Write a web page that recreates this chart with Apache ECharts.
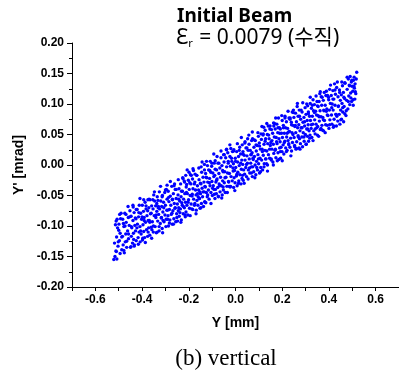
<!DOCTYPE html>
<html>
<head>
<meta charset="utf-8">
<script src="https://cdn.jsdelivr.net/npm/echarts@6/dist/echarts.min.js"></script>
<style>
html,body{margin:0;padding:0;background:#fff;}
#c{width:399px;height:376px;}
</style>
</head>
<body>
<div id="c"></div>
<script>
// Y [mm], Y' [mrad], left part of the beam
const beamLeft = [
[-.521,-.155],[-.516,-.150],[-.508,-.154],[-.512,-.141],[-.503,-.133],[-.518,-.128],[-.497,-.124],[-.509,-.118],[-.494,-.112],[-.505,-.103],[-.499,-.097],[-.492,-.088],[-.511,-.092],[-.496,-.081],
[-.487,-.139],[-.481,-.131],[-.476,-.144],[-.472,-.126],[-.466,-.135],[-.458,-.121],[-.484,-.117],[-.470,-.113],[-.462,-.108],[-.478,-.101],[-.455,-.099],[-.468,-.094],[-.483,-.089],[-.459,-.086],[-.474,-.079],[-.452,-.075],
[-.448,-.134],[-.441,-.128],[-.433,-.131],[-.425,-.124],[-.417,-.119],[-.446,-.117],[-.437,-.112],[-.428,-.108],[-.413,-.110],[-.444,-.103],[-.431,-.099],[-.420,-.097],[-.439,-.091],[-.426,-.088],[-.415,-.085],[-.447,-.084],[-.434,-.078],[-.421,-.073],[-.412,-.066],[-.438,-.069],
[-.408,-.126],[-.398,-.123],[-.389,-.119],[-.376,-.117],[-.404,-.113],[-.393,-.109],[-.381,-.106],[-.372,-.103],[-.409,-.101],[-.396,-.098],[-.385,-.094],[-.374,-.091],[-.402,-.089],[-.391,-.086],[-.379,-.083],[-.406,-.079],[-.394,-.076],[-.383,-.072],[-.371,-.070],[-.399,-.066],[-.387,-.061],[-.375,-.057],
[-.367,-.115],[-.352,-.110],[-.339,-.111],[-.361,-.102],[-.344,-.101],[-.333,-.092],[-.356,-.093],[-.369,-.091],[-.348,-.083],[-.337,-.076],[-.364,-.080],[-.353,-.072],[-.342,-.067],[-.331,-.070],[-.359,-.067],[-.346,-.059],[-.335,-.052],[-.366,-.057],[-.350,-.049],[-.341,-.086],[-.358,-.106],[-.332,-.058],
[-.327,-.108],[-.314,-.104],[-.298,-.101],[-.322,-.096],[-.306,-.093],[-.291,-.089],[-.318,-.087],[-.329,-.081],[-.302,-.082],[-.311,-.077],[-.294,-.074],[-.325,-.072],[-.316,-.068],[-.300,-.066],[-.308,-.061],[-.320,-.059],[-.293,-.056],[-.313,-.050],[-.303,-.045],[-.326,-.044],[-.296,-.040],[-.310,-.091],
[-.287,-.100],[-.271,-.097],[-.256,-.093],[-.281,-.090],[-.264,-.088],[-.289,-.083],[-.275,-.081],[-.252,-.080],[-.268,-.075],[-.283,-.073],[-.259,-.071],[-.277,-.066],[-.262,-.063],[-.285,-.060],[-.270,-.057],[-.254,-.055],[-.279,-.051],[-.266,-.047],[-.288,-.043],[-.258,-.040],[-.273,-.035],[-.261,-.031],
[-.248,-.092],[-.232,-.090],[-.215,-.085],[-.241,-.084],[-.224,-.080],[-.212,-.077],[-.245,-.075],[-.236,-.072],[-.219,-.070],[-.228,-.066],[-.249,-.064],[-.214,-.061],[-.239,-.059],[-.222,-.056],[-.233,-.052],[-.246,-.049],[-.217,-.047],[-.227,-.043],[-.242,-.039],[-.211,-.036],[-.235,-.031],[-.220,-.026],[-.230,-.062],[-.243,-.070],[-.226,-.021],[-.213,-.017]
];
// central part of the beam
const beamCore = [
[-.204,-.082],[-.183,-.073],[-.197,-.071],[-.174,-.063],[-.190,-.064],[-.208,-.066],[-.179,-.056],[-.201,-.057],[-.186,-.051],[-.194,-.050],[-.171,-.041],[-.206,-.047],[-.182,-.039],[-.198,-.040],[-.176,-.031],[-.191,-.031],[-.209,-.032],[-.184,-.023],[-.202,-.025],[-.173,-.015],[-.193,-.016],[-.180,-.009],[-.187,-.072],[-.199,-.012],
[-.168,-.074],[-.152,-.071],[-.137,-.068],[-.161,-.066],[-.146,-.063],[-.132,-.060],[-.165,-.058],[-.155,-.055],[-.141,-.052],[-.169,-.049],[-.150,-.047],[-.134,-.044],[-.158,-.041],[-.143,-.038],[-.163,-.034],[-.148,-.031],[-.135,-.028],[-.156,-.024],[-.139,-.020],[-.166,-.017],[-.145,-.012],[-.153,-.044],[-.131,-.035],[-.160,-.052],[-.147,-.003],[-.133,.001],
[-.127,-.062],[-.113,-.056],[-.099,-.050],[-.121,-.052],[-.105,-.045],[-.092,-.040],[-.125,-.045],[-.116,-.041],[-.095,-.034],[-.109,-.034],[-.129,-.036],[-.101,-.027],[-.119,-.028],[-.093,-.019],[-.111,-.022],[-.123,-.021],[-.097,-.013],[-.106,-.012],[-.128,-.014],[-.115,-.008],[-.102,-.002],[-.091,.003],[-.120,-.001],[-.108,.006],
[-.088,-.055],[-.073,-.052],[-.057,-.049],[-.082,-.047],[-.066,-.044],[-.052,-.041],[-.086,-.040],[-.076,-.037],[-.061,-.034],[-.070,-.031],[-.084,-.028],[-.055,-.026],[-.079,-.023],[-.064,-.020],[-.089,-.017],[-.071,-.014],[-.053,-.011],[-.081,-.008],[-.067,-.005],[-.058,-.001],[-.075,.003],[-.087,.007],[-.062,.012],[-.051,.017],
[-.044,-.045],[-.023,-.036],[-.037,-.035],[-.014,-.026],[-.030,-.027],[-.048,-.029],[-.019,-.019],[-.041,-.020],[-.026,-.014],[-.034,-.013],[-.011,-.005],[-.046,-.011],[-.022,-.002],[-.038,-.003],[-.016,.006],[-.031,.006],[-.049,.005],[-.024,.014],[-.042,.012],[-.013,.022],[-.033,.020],[-.020,.027],[-.027,-.035],[-.039,.025],
[-.008,-.037],[.007,-.034],[.023,-.031],[-.002,-.029],[.014,-.026],[.028,-.022],[-.006,-.021],[.004,-.018],[.019,-.016],[.010,-.012],[-.004,-.009],[.025,-.007],[.001,-.004],[.016,-.001],[-.009,.002],[.009,.005],[.027,.008],[-.001,.011],[.013,.014],[.022,.018],[.005,.022],[-.007,.025],[.018,.029],[.029,.033],
[.033,-.025],[.047,-.019],[.061,-.013],[.039,-.015],[.055,-.008],[.068,-.003],[.035,-.008],[.044,-.004],[.065,.003],[.051,.003],[.031,.001],[.059,.010],[.041,.008],[.067,.017],[.049,.015],[.037,.016],[.063,.024],[.054,.024],[.032,.022],[.045,.028],[.058,.034],[.069,.040],[.040,.036],[.052,.043],
[.072,-.019],[.087,-.016],[.103,-.013],[.078,-.011],[.094,-.008],[.108,-.004],[.074,-.003],[.084,.000],[.099,.002],[.090,.006],[.076,.009],[.105,.011],[.081,.014],[.096,.017],[.071,.020],[.089,.023],[.107,.026],[.079,.029],[.093,.032],[.102,.036],[.085,.040],[.073,.043],[.098,.047],[.109,.051],
[.116,-.008],[.137,.000],[.123,.002],[.146,.011],[.130,.010],[.112,.008],[.141,.017],[.119,.016],[.134,.023],[.126,.024],[.149,.032],[.114,.026],[.138,.035],[.122,.034],[.144,.043],[.129,.043],[.111,.042],[.136,.050],[.118,.049],[.147,.059],[.127,.057],[.140,.064],[.133,.002],[.121,.062]
];
// right part of the beam
const beamRight = [
[.184,.077],[.163,.069],[.177,.067],[.154,.058],[.170,.059],[.188,.061],[.159,.052],[.181,.053],[.166,.046],[.174,.045],[.151,.037],[.186,.043],[.162,.034],[.178,.035],[.156,.026],[.171,.026],[.189,.028],[.164,.019],[.182,.020],[.153,.010],[.173,.012],[.160,.005],[.167,.068],[.179,.007],
[.193,.011],[.207,.018],[.221,.024],[.199,.022],[.215,.028],[.228,.033],[.195,.029],[.204,.033],[.225,.040],[.211,.039],[.191,.038],[.219,.046],[.201,.045],[.227,.054],[.209,.052],[.197,.052],[.223,.060],[.214,.061],[.192,.059],[.205,.065],[.218,.071],[.229,.077],[.200,.073],[.212,.080],
[.264,.096],[.243,.087],[.257,.085],[.234,.077],[.250,.078],[.268,.080],[.239,.070],[.261,.071],[.246,.065],[.254,.063],[.231,.055],[.266,.061],[.242,.053],[.258,.053],[.236,.044],[.251,.045],[.269,.046],[.244,.037],[.262,.038],[.233,.029],[.253,.030],[.240,.023],[.247,.086],[.259,.026],
[.272,.028],[.287,.030],[.303,.034],[.278,.035],[.294,.039],[.308,.047],[.274,.043],[.284,.046],[.299,.050],[.290,.053],[.276,.056],[.305,.059],[.281,.061],[.296,.064],[.271,.066],[.289,.070],[.307,.073],[.279,.075],[.293,.078],[.302,.083],[.285,.087],[.273,.090],[.298,.094],[.309,.097],
[.313,.039],[.327,.045],[.341,.051],[.319,.049],[.335,.056],[.348,.061],[.315,.056],[.324,.060],[.345,.067],[.331,.067],[.311,.066],[.339,.074],[.321,.073],[.347,.082],[.329,.080],[.317,.080],[.343,.088],[.334,.089],[.312,.087],[.325,.093],[.338,.099],[.349,.104],[.320,.101],[.332,.107],
[.356,.047],[.377,.056],[.363,.058],[.386,.066],[.370,.065],[.352,.063],[.381,.073],[.359,.072],[.374,.078],[.366,.079],[.389,.088],[.354,.081],[.378,.090],[.362,.089],[.384,.098],[.369,.098],[.351,.097],[.376,.106],[.358,.104],[.387,.114],[.367,.112],[.380,.119],[.373,.057],[.361,.117],
[.424,.133],[.403,.124],[.417,.122],[.394,.114],[.410,.114],[.428,.116],[.399,.107],[.421,.108],[.406,.101],[.414,.100],[.391,.092],[.426,.098],[.402,.090],[.418,.090],[.396,.081],[.411,.082],[.429,.083],[.404,.074],[.422,.075],[.393,.065],[.413,.067],[.400,.060],[.419,.062],
[.432,.064],[.447,.067],[.463,.071],[.438,.072],[.454,.075],[.468,.084],[.434,.080],[.444,.083],[.459,.087],[.450,.090],[.465,.096],[.441,.097],[.456,.101],[.449,.106],[.467,.109],[.439,.112],[.453,.115],[.462,.119],[.445,.123],[.433,.127],[.458,.130],[.469,.134],
[.473,.081],[.481,.092],[.489,.099],[.497,.104],[.504,.098],[.511,.108],[.476,.106],[.485,.113],[.493,.118],[.502,.121],[.509,.126],[.515,.117],[.478,.124],[.487,.131],[.496,.136],[.505,.139],[.512,.133],[.483,.141],[.491,.145],[.499,.129],[.519,.152],[.508,.144]
];
// scattered particles along the ragged edges and through the band
const beamEdge = [
[-.514,-.098],[-.510,-.142],[-.507,-.089],[-.502,-.126],[-.500,-.107],[-.494,-.145],[-.490,-.079],[-.487,-.118],[-.480,-.096],[-.478,-.140],[-.473,-.100],[-.469,-.081],[-.466,-.125],[-.460,-.068],[-.458,-.113],[-.453,-.085],[-.450,-.135],[-.446,-.101],[-.439,-.066],[-.436,-.122],
[-.434,-.133],[-.429,-.087],[-.425,-.073],[-.422,-.103],[-.416,-.130],[-.414,-.078],[-.409,-.055],[-.406,-.108],[-.400,-.085],[-.397,-.120],[-.393,-.057],[-.391,-.091],[-.386,-.127],[-.383,-.067],[-.376,-.075],[-.374,-.110],[-.370,-.056],[-.367,-.094],[-.361,-.079],[-.359,-.120],
[-.354,-.057],[-.351,-.100],[-.347,-.044],[-.340,-.082],[-.337,-.063],[-.335,-.110],[-.330,-.068],[-.327,-.101],[-.321,-.035],[-.317,-.086],[-.314,-.052],[-.312,-.111],[-.307,-.070],[-.300,-.041],[-.297,-.089],[-.293,-.033],[-.291,-.074],[-.286,-.053],[-.283,-.095],[-.279,-.027],
[-.272,-.079],[-.270,-.056],[-.266,-.097],[-.263,-.034],[-.258,-.070],[-.254,-.040],[-.251,-.086],[-.245,-.024],[-.243,-.056],[-.238,-.078],[-.234,-.094],[-.231,-.043],[-.225,-.022],[-.223,-.068],[-.218,-.028],[-.216,-.082],[-.210,-.045],[-.207,-.008],[-.203,-.061],[-.196,-.029],
[-.194,-.083],[-.189,-.017],[-.185,-.048],[-.182,-.006],[-.176,-.066],[-.174,-.028],[-.169,-.080],[-.166,-.017],[-.163,-.047],[-.157,-.005],[-.154,-.055],[-.150,-.030],[-.148,-.070],[-.143,.005],[-.139,-.044],[-.133,-.008],[-.130,-.061],[-.126,-.020],[-.124,.006],[-.119,-.049],
[-.112,-.029],[-.110,-.009],[-.105,-.063],[-.101,.003],[-.098,-.038],[-.093,.018],[-.090,-.048],[-.087,-.007],[-.081,-.025],[-.079,.014],[-.074,-.051],[-.071,.003],[-.068,-.034],[-.062,.023],[-.059,-.054],[-.055,-.009],[-.053,-.036],[-.048,.017],[-.045,-.021],[-.038,.026],
[-.035,-.045],[-.031,.003],[-.029,-.028],[-.024,.033],[-.021,-.035],[-.017,.011],[-.010,-.010],[-.008,.023],[-.003,-.042],[.000,.006],[.006,-.015],[.008,.035],[.013,-.030],[.016,.024],[.022,.003],[.025,.045],[.030,-.017],[.032,.018],[.037,-.030],[.041,.038],
[.047,.001],[.049,.028],[.054,-.023],[.057,.049],[.060,-.005],[.066,.017],[.068,-.013],[.072,.054],[.075,.011],[.081,.041],[.083,-.021],[.088,.033],[.091,-.004],[.096,.053],[.098,.010],[.103,.031],[.107,-.011],[.113,.063],[.115,.022],[.119,.051],
[.122,-.003],[.127,.039],[.129,.010],[.134,.068],[.137,-.010],[.142,.049],[.146,.026],[.148,.064],[.153,.008],[.156,.040],[.162,.000],[.164,.064],[.169,.024],[.172,.077],[.176,.038],[.182,.061],[.185,.009],[.189,.052],[.192,.022],[.198,.081],
[.200,.007],[.205,.061],[.209,.037],[.212,.077],[.218,.022],[.221,.052],[.225,.088],[.228,.035],[.233,.075],[.237,.015],[.240,.066],[.246,.050],[.248,.090],[.253,.032],[.256,.065],[.261,.027],[.265,.101],[.268,.048],[.274,.080],[.276,.026],
[.281,.090],[.285,.061],[.288,.102],[.293,.046],[.296,.071],[.302,.034],[.305,.100],[.309,.059],[.312,.084],[.318,.044],[.320,.111],[.325,.066],[.329,.098],[.332,.040],[.338,.086],[.341,.059],[.345,.113],[.351,.049],[.354,.096],[.358,.079],
[.363,.120],[.366,.060],[.371,.111],[.376,.074],[.379,.089],[.384,.053],[.389,.121],[.393,.082],[.398,.111],[.403,.066],[.407,.131],[.412,.094],[.417,.108],[.421,.064],[.426,.123],[.431,.083],[.436,.136],[.440,.096],[.446,.119],[.451,.074],
[.455,.136],[.459,.094],[.464,.111],[.468,.135],[.474,.089],[.478,.144],[.483,.104],[.488,.130],[.494,.110],[.498,.139],[.503,.107],[.507,.129],[.513,.120],[.517,.141]
];
const xTicks = [-0.7,-0.6,-0.5,-0.4,-0.3,-0.2,-0.1,0,0.1,0.2,0.3,0.4,0.5,0.6,0.7];
const xTickLabels = [-0.6,-0.4,-0.2,0.0,0.2,0.4,0.6];
const yTickLabels = [-0.20,-0.15,-0.10,-0.05,0.00,0.05,0.10,0.15,0.20];

const chart = echarts.init(document.getElementById('c'), null, {renderer:'canvas'});
const labelFont = {fontFamily:'"Liberation Sans", Arial, sans-serif', fontWeight:'bold', fontSize:12, color:'#000'};
const nameFont = {fontFamily:'"Liberation Sans", Arial, sans-serif', fontWeight:'bold', fontSize:14, color:'#000'};
chart.setOption({
  animation:false,
  backgroundColor:'#fff',
  grid:{left:72, right:-2, top:43, bottom:89, containLabel:false},
  xAxis:{
    type:'value', min:-0.7, max:0.7,
    name:'Y [mm]', nameLocation:'middle', nameGap:29,
    nameTextStyle:nameFont,
    axisLine:{show:true, onZero:false, lineStyle:{color:'#000', width:1}},
    axisTick:{show:true, length:4, customValues:xTicks, lineStyle:{color:'#000'}},
    axisLabel:Object.assign({margin:7, customValues:xTickLabels, formatter:v=>v.toFixed(1)}, labelFont),
    splitLine:{show:false}
  },
  yAxis:{
    type:'value', min:-0.2, max:0.2, interval:0.05,
    name:"Y' [mrad]", nameLocation:'middle', nameGap:38, nameRotate:90,
    nameTextStyle:nameFont,
    axisLine:{show:true, onZero:false, lineStyle:{color:'#000', width:1}},
    axisTick:{show:true, length:5, lineStyle:{color:'#000'}},
    minorTick:{show:true, splitNumber:2, length:3, lineStyle:{color:'#000'}},
    axisLabel:Object.assign({margin:8, customValues:yTickLabels, formatter:v=>v.toFixed(2)}, labelFont),
    splitLine:{show:false}
  },
  graphic:[
    {type:'text', left:177, top:7, style:{text:'Initial Beam', font:'bold 19px "Noto Sans", sans-serif', fill:'#000'}},
    {type:'text', left:176, top:28, style:{
      text:'{e|Ɛ}{s|r}{n| = 0.0079 (수직)}',
      rich:{
        e:{fontFamily:'"Noto Sans", sans-serif', fontSize:21, fill:'#000', lineHeight:26, verticalAlign:'bottom'},
        s:{fontFamily:'"Noto Sans", sans-serif', fontSize:11, fill:'#000', lineHeight:26, verticalAlign:'bottom', padding:[0,1,0,0]},
        n:{fontFamily:'"Noto Sans", "Noto Sans CJK KR", sans-serif', fontSize:21, fill:'#000', lineHeight:26, verticalAlign:'bottom'}
      }}},
    {type:'text', x:226, y:347, style:{text:'(b) vertical', font:'23px "Liberation Serif", "Times New Roman", serif', fill:'#000', align:'center'}}
  ],
  series:[{
    type:'scatter',
    data:beamLeft.concat(beamCore, beamRight, beamEdge),
    symbol:'circle', symbolSize:3.4,
    itemStyle:{color:'#0000ff', opacity:1},
    silent:true
  }]
});
</script>
</body>
</html>
